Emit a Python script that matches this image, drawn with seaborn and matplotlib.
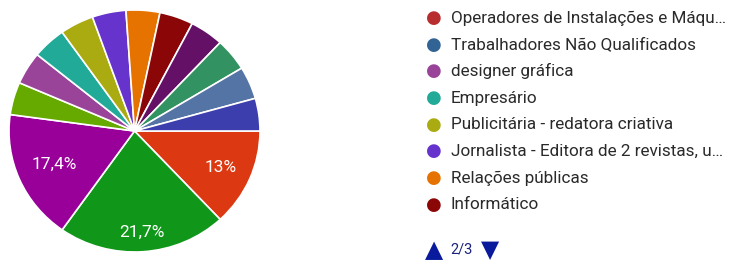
import matplotlib
matplotlib.use("Agg")
from matplotlib import pyplot as plt
import seaborn as sns
import numpy as np

# slices clockwise from 3 o'clock (Google Forms order)
counts = [3, 5, 4, 1, 1, 1, 1, 1, 1, 1, 1, 1, 1, 1]
slice_colors = ["#dc3912", "#109618", "#990099", "#66aa00", "#994499", "#22aa99",
                "#aaaa11", "#6633cc", "#e67300", "#8b0707", "#651067", "#329262",
                "#5574a6", "#3b3eac"]

# legend page 2/3
legend_labels = ["Operadores de Instalações e Máqu…", "Trabalhadores Não Qualificados",
                 "designer gráfica", "Empresário", "Publicitária - redatora criativa",
                 "Jornalista - Editora de 2 revistas, u…", "Relações públicas", "Informático"]
legend_colors = ["#b82e2e", "#316395", "#994499", "#22aa99", "#aaaa11", "#6633cc",
                 "#e67300", "#8b0707"]
page_text = "2/3"

sns.set_theme(style="white")
plt.rcParams['font.family'] = ['Roboto', 'DejaVu Sans']

W, H = 732, 264
fig = plt.figure(figsize=(W / 100, H / 100), dpi=100)

# pie axes in pixel box
cx, cy, rx, ry = 134.5, 131, 125.5, 121
ax = fig.add_axes([(cx - rx) / W, (H - cy - ry) / H, 2 * rx / W, 2 * ry / H])


def fmt(p):
    if p < 10:
        return ""
    s = f"{p:.1f}".rstrip("0").rstrip(".")
    return s.replace(".", ",") + "%"


wedges, texts, autotexts = ax.pie(counts, colors=sns.color_palette(slice_colors),
                                  startangle=0, counterclock=False, autopct=fmt,
                                  pctdistance=0.76,
                                  wedgeprops=dict(edgecolor="white", linewidth=1.2),
                                  textprops=dict(color="white", fontsize=12.5))
# google places labels a bit irregularly
label_r = [0.75, 0.84, 0.70]
for w, t, r in zip(wedges, autotexts, label_r):
    a = np.deg2rad((w.theta1 + w.theta2) / 2)
    t.set_position((r * np.cos(a), r * np.sin(a)))

ax.set_aspect("auto")
ax.set_xlim(-1, 1)
ax.set_ylim(-1, 1)
ax.axis("off")

# legend
y0, dy = 18, 26.7
for i, (lab, col) in enumerate(zip(legend_labels, legend_colors)):
    y = 1 - (y0 + i * dy) / H
    fig.text(434 / W, y, "●", color=col, fontsize=13, ha="center", va="center",
             family=["DejaVu Sans"])
    fig.text(451 / W, y, lab, color="#2a2a2a", fontsize=12.3, ha="left", va="center")

yp = 1 - 250 / H
fig.text(434 / W, yp, "▲", color="#0a1a9c", fontsize=17, ha="center", va="center",
         family=["DejaVu Sans"])
fig.text(462 / W, yp, page_text, color="#1a237e", fontsize=10.5, ha="center", va="center")
fig.text(490 / W, yp, "▼", color="#0a1a9c", fontsize=17, ha="center", va="center",
         family=["DejaVu Sans"])

fig.savefig("out.png", dpi=100, facecolor="white")
